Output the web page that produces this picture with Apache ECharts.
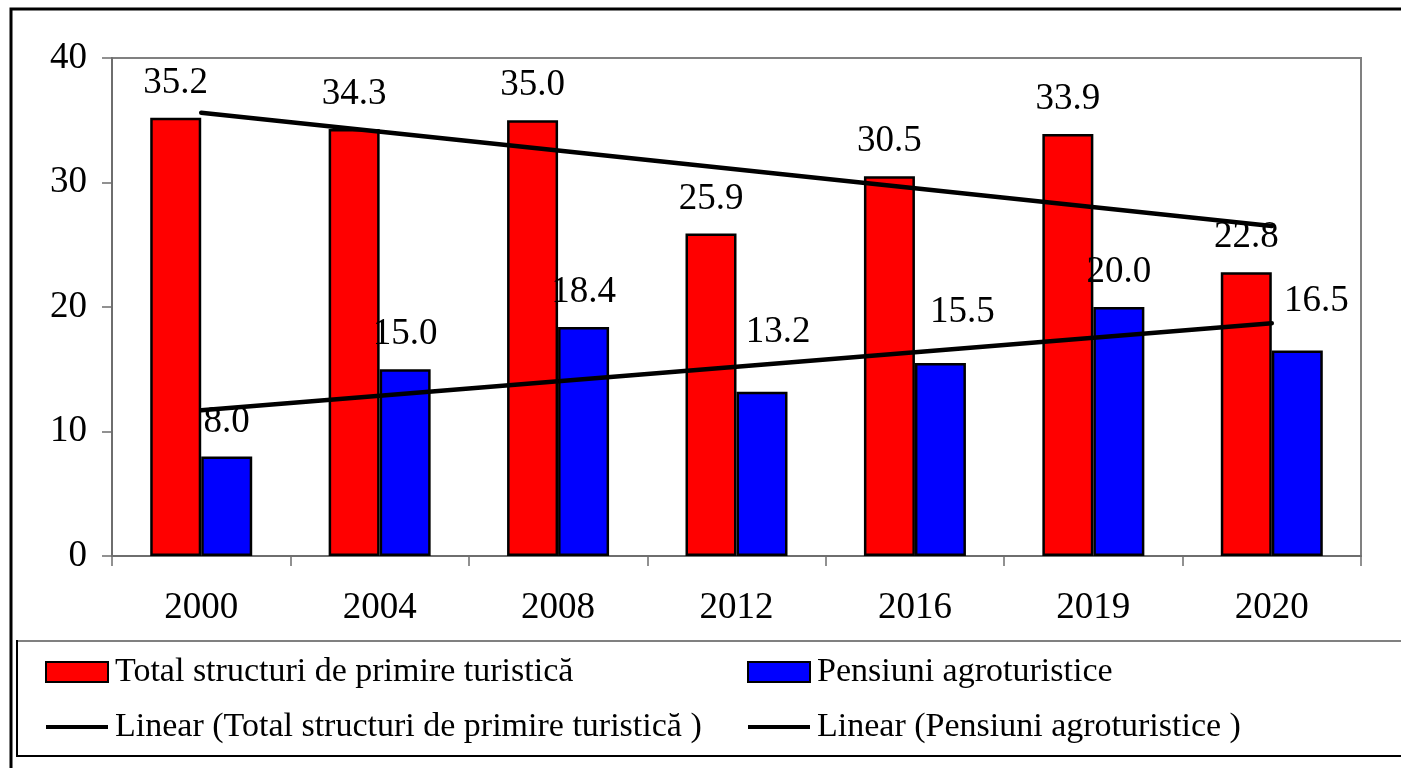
<!DOCTYPE html>
<html lang="ro">
<head>
    <meta charset="UTF-8">
    <title>Structuri de primire turistică</title>
    <script src="https://cdn.jsdelivr.net/npm/echarts@6/dist/echarts.min.js"></script>
    <style>
        html, body { margin: 0; padding: 0; background: #fff; overflow: hidden; }
    </style>
</head>
<body>
    <div id="main" style="width: 1401px;height:768px;"></div>
    <script type="text/javascript">
        // data
        const years = ['2000', '2004', '2008', '2012', '2016', '2019', '2020'];
        const totalStructuri = [35.2, 34.3, 35.0, 25.9, 30.5, 33.9, 22.8];
        const pensiuni = [8.0, 15.0, 18.4, 13.2, 15.5, 20.0, 16.5];
        // trendline end points (first and last year)
        const trendTotal = [35.6, 26.5];
        const trendPensiuni = [11.7, 18.7];
        const yTicks = [0, 10, 20, 30, 40];

        const nameTotal = 'Total structuri de primire turistică';
        const namePens = 'Pensiuni agroturistice';
        const nameTrendTotal = 'Linear (Total structuri de primire turistică )';
        const nameTrendPens = 'Linear (Pensiuni agroturistice )';

        // some blue labels were nudged by hand in the original
        const pensLabelNudge = [[0, 0], [0, 0], [0, 0], [16, -25], [22, -16], [0, 0], [19, -15]];

        const font = '"Liberation Serif", "Times New Roman", serif';
        const lineIcon = 'path://M0,0 L62,0 L62,4 L0,4 Z';

        let myChart = echarts.init(document.getElementById('main'));

        let options = {
            animation: false,
            backgroundColor: '#fff',
            textStyle: { fontFamily: font, color: '#000' },
            grid: {
                left: 112, top: 58, right: 40, bottom: 212,
                show: true, borderColor: '#808080', borderWidth: 2
            },
            xAxis: {
                type: 'category',
                data: years,
                axisLine: { lineStyle: { color: '#6e6e6e', width: 2 } },
                axisTick: { show: true, length: 10, lineStyle: { color: '#6e6e6e', width: 1.5 } },
                axisLabel: { fontFamily: font, fontSize: 37, color: '#000', margin: 34 }
            },
            yAxis: {
                type: 'value',
                min: yTicks[0],
                max: yTicks[yTicks.length - 1],
                interval: 10,
                axisLine: { show: true, lineStyle: { color: '#6e6e6e', width: 2 } },
                axisTick: { show: true, length: 10, lineStyle: { color: '#6e6e6e', width: 1.5 } },
                splitLine: { show: false },
                axisLabel: { fontFamily: font, fontSize: 37, color: '#000', margin: 25 }
            },
            legend: [
                {
                    left: 45, top: 655, orient: 'vertical', padding: 0,
                    itemWidth: 62, itemHeight: 20, itemGap: 21,
                    textStyle: { fontFamily: font, fontSize: 34, color: '#000', padding: [0, 0, 0, 2] },
                    data: [
                        { name: nameTotal, icon: 'rect' },
                        { name: nameTrendTotal, icon: lineIcon }
                    ]
                },
                {
                    left: 747, top: 655, orient: 'vertical', padding: 0,
                    itemWidth: 62, itemHeight: 20, itemGap: 21,
                    textStyle: { fontFamily: font, fontSize: 34, color: '#000', padding: [0, 0, 0, 2] },
                    data: [
                        { name: namePens, icon: 'rect' },
                        { name: nameTrendPens, icon: lineIcon }
                    ]
                }
            ],
            graphic: [
                {
                    type: 'rect', silent: true,
                    shape: { x: 11, y: 9, width: 1500, height: 800 },
                    style: { fill: 'none', stroke: '#000', lineWidth: 3 }
                },
                {
                    type: 'rect', silent: true,
                    shape: { x: 17, y: 641, width: 1500, height: 115 },
                    style: { fill: 'none', stroke: '#000', lineWidth: 2 }
                },
                {
                    type: 'line', silent: true,
                    shape: { x1: 18, y1: 641, x2: 1401, y2: 641 },
                    style: { stroke: '#808080', lineWidth: 2 }
                }
            ],
            series: [
                {
                    name: nameTotal,
                    type: 'bar',
                    data: totalStructuri,
                    barWidth: 51,
                    barGap: '0%',
                    itemStyle: { color: '#ff0000', borderColor: '#000', borderWidth: 2.5 },
                    label: {
                        show: true, position: 'top', distance: 16,
                        fontFamily: font, fontSize: 37, color: '#000',
                        formatter: (p) => p.value.toFixed(1)
                    }
                },
                {
                    name: namePens,
                    type: 'bar',
                    data: pensiuni.map((v, i) => ({
                        value: v,
                        label: { offset: pensLabelNudge[i] }
                    })),
                    barWidth: 51,
                    barGap: '0%',
                    itemStyle: { color: '#0000ff', borderColor: '#000', borderWidth: 2.5 },
                    label: {
                        show: true, position: 'top', distance: 16,
                        fontFamily: font, fontSize: 37, color: '#000',
                        formatter: (p) => p.value.toFixed(1)
                    }
                },
                {
                    name: nameTrendTotal,
                    type: 'line',
                    data: [[years[0], trendTotal[0]], [years[years.length - 1], trendTotal[1]]],
                    symbol: 'none',
                    z: 5,
                    lineStyle: { color: '#000', width: 4.5, cap: 'round' },
                    itemStyle: { color: '#000' }
                },
                {
                    name: nameTrendPens,
                    type: 'line',
                    data: [[years[0], trendPensiuni[0]], [years[years.length - 1], trendPensiuni[1]]],
                    symbol: 'none',
                    z: 5,
                    lineStyle: { color: '#000', width: 4.5, cap: 'round' },
                    itemStyle: { color: '#000' }
                }
            ]
        };

        myChart.setOption(options);
    </script>
</body>
</html>
